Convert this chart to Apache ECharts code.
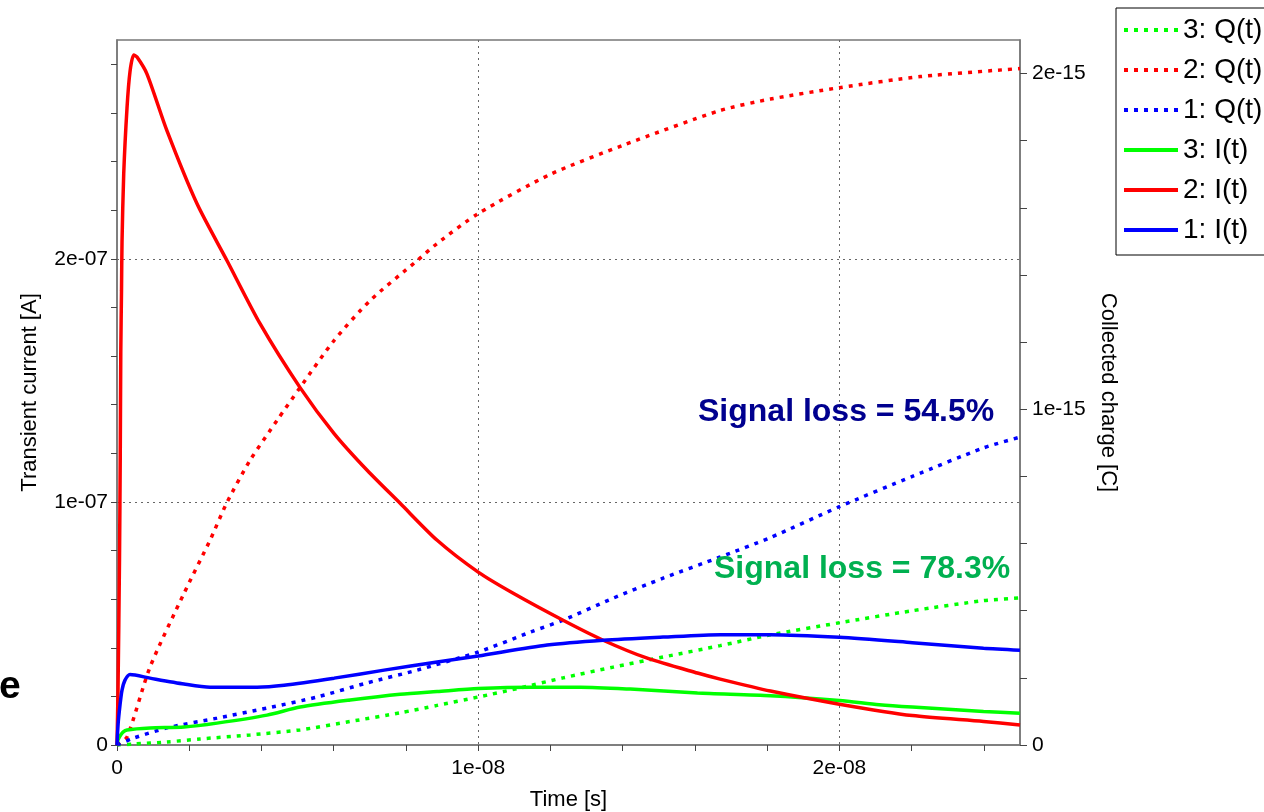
<!DOCTYPE html>
<html>
<head>
<meta charset="utf-8">
<script src="https://cdn.jsdelivr.net/npm/echarts@6/dist/echarts.min.js"></script>
<style>
html,body{margin:0;padding:0;background:#fff;}
#chart{width:1264px;height:812px;}
</style>
</head>
<body>
<div id="chart"></div>
<script>
// ---- Data (time in ns, current in 1e-07 A, charge in 1e-15 C) ----
const redI_t = [0, 0.028, 0.069, 0.091, 0.105, 0.125, 0.139, 0.186, 0.277, 0.36, 0.463, 0.554, 0.831, 1.385, 2.216, 3.047, 3.961, 5.069, 6.011, 6.925, 7.839, 8.864, 10.0, 10.97, 12.35, 13.46, 14.68, 16.07, 16.70, 18.09, 20.0, 22.02, 23.99, 25.0];
const redI_v = [0, 0.226, 0.76, 1.21, 1.62, 1.87, 2.07, 2.35, 2.62, 2.77, 2.838, 2.83, 2.76, 2.526, 2.226, 1.992, 1.733, 1.47, 1.281, 1.130, 0.994, 0.842, 0.711, 0.624, 0.513, 0.431, 0.357, 0.296, 0.271, 0.222, 0.168, 0.121, 0.097, 0.082];

const redQ_t = [0, 0.277, 0.914, 1.856, 2.576, 3.047, 3.684, 4.432, 5.069, 6.011, 7.008, 8.31, 8.864, 10.0, 12.0, 14.0, 16.7, 18.09, 20.0, 22.24, 25.0];
const redQ_v = [0, 0.024, 0.232, 0.452, 0.610, 0.723, 0.848, 0.967, 1.065, 1.205, 1.324, 1.443, 1.494, 1.583, 1.70, 1.786, 1.89, 1.924, 1.958, 1.991, 2.015];

const blueI_t = [0, 0.028, 0.083, 0.139, 0.222, 0.36, 0.914, 1.856, 2.576, 3.878, 4.626, 6.011, 7.396, 8.864, 10.0, 11.91, 13.46, 15.12, 16.70, 18.09, 20.0, 22.02, 23.99, 25.0];
const blueI_v = [0, 0.082, 0.164, 0.226, 0.267, 0.29, 0.275, 0.251, 0.238, 0.238, 0.246, 0.275, 0.308, 0.341, 0.366, 0.411, 0.431, 0.444, 0.454, 0.454, 0.443, 0.421, 0.398, 0.39];

const blueQ_t = [0, 0.47, 1.385, 2.77, 4.155, 5.54, 6.925, 8.31, 10.0, 11.44, 12.35, 13.74, 15.12, 16.70, 18.09, 20.0, 22.02, 23.99, 25.0];
const blueQ_v = [0, 0.021, 0.051, 0.080, 0.110, 0.143, 0.185, 0.223, 0.277, 0.336, 0.372, 0.4375, 0.497, 0.560, 0.618, 0.71, 0.80, 0.885, 0.917];

const greenI_t = [0, 0.028, 0.083, 0.166, 0.277, 0.914, 1.856, 2.77, 4.155, 5.069, 6.454, 7.839, 8.864, 10.0, 11.44, 12.83, 14.21, 16.07, 18.09, 20.0, 21.1, 22.02, 23.99, 25.0];
const greenI_v = [0, 0.021, 0.037, 0.053, 0.062, 0.070, 0.074, 0.090, 0.123, 0.156, 0.185, 0.209, 0.220, 0.232, 0.238, 0.238, 0.230, 0.214, 0.203, 0.183, 0.166, 0.156, 0.138, 0.131];

const greenQ_t = [0, 0.47, 1.385, 2.30, 3.684, 5.069, 6.454, 7.839, 8.864, 10.0, 11.08, 12.35, 13.74, 15.12, 16.70, 18.09, 20.0, 22.02, 23.99, 25.0];
const greenQ_v = [0, 0.003, 0.009, 0.018, 0.030, 0.045, 0.070, 0.096, 0.118, 0.143, 0.168, 0.200, 0.232, 0.262, 0.296, 0.328, 0.364, 0.400, 0.430, 0.438];

// ---- Tick values ----
const xTickValues = [0, 2e-9, 4e-9, 6e-9, 8e-9, 1e-8, 1.2e-8, 1.4e-8, 1.6e-8, 1.8e-8, 2e-8, 2.2e-8, 2.4e-8];
const xLabelValues = [0, 1e-8, 2e-8];
const yLeftTickValues = [0, 2e-8, 4e-8, 6e-8, 8e-8, 1e-7, 1.2e-7, 1.4e-7, 1.6e-7, 1.8e-7, 2e-7, 2.2e-7, 2.4e-7, 2.6e-7, 2.8e-7];
const yLeftLabelValues = [0, 1e-7, 2e-7];
const yRightTickValues = [0, 2e-16, 4e-16, 6e-16, 8e-16, 1e-15, 1.2e-15, 1.4e-15, 1.6e-15, 1.8e-15, 2e-15];
const yRightLabelValues = [0, 1e-15, 2e-15];

const legendOrder = ['3: Q(t)', '2: Q(t)', '1: Q(t)', '3: I(t)', '2: I(t)', '1: I(t)'];

const FONT = "'Liberation Sans', Arial, Helvetica, sans-serif";

function pairs(ts, vs, tScale, vScale) {
  return ts.map((t, i) => [t * tScale, vs[i] * vScale]);
}
function sci(v) {
  if (Math.abs(v) < 1e-40) return '0';
  const e = Math.floor(Math.log10(Math.abs(v)) + 1e-9);
  const m = Math.round(v / Math.pow(10, e) * 100) / 100;
  return m + 'e' + (e < 0 ? '-' : '+') + String(Math.abs(e)).padStart(2, '0');
}

const chart = echarts.init(document.getElementById('chart'), null, {renderer: 'canvas'});

const axisLineStyle = {color: '#777', width: 1.5};
const tickLineStyle = {color: '#444', width: 1};
const labelStyle = {fontSize: 21, color: '#000', fontFamily: FONT};
const nameStyle = {fontSize: 22, color: '#000', fontFamily: FONT};
const gridLineStyle = {color: '#666', type: [2, 4], width: 1};

function qSeries(name, t, v, color) {
  return {
    name, type: 'line', yAxisIndex: 1, symbol: 'none', showSymbol: false,
    smooth: 0.25,
    data: pairs(t, v, 1e-9, 1e-15),
    lineStyle: {color, width: 3.5, type: [4, 6]},
    itemStyle: {color},
    z: 2
  };
}
function iSeries(name, t, v, color) {
  return {
    name, type: 'line', yAxisIndex: 0, symbol: 'none', showSymbol: false,
    smooth: 0.25,
    data: pairs(t, v, 1e-9, 1e-7),
    lineStyle: {color, width: 3.5},
    itemStyle: {color},
    z: 3
  };
}

const hidden = {axisLine: {show: false}, axisTick: {show: false}, axisLabel: {show: false}};

const option = {
  animation: false,
  backgroundColor: '#fff',
  textStyle: {fontFamily: FONT},
  grid: {left: 117, right: 244, top: 40, bottom: 67, outerBoundsMode: 'none', containLabel: false, show: true, borderColor: '#777', borderWidth: 1.5, backgroundColor: 'transparent'},
  legend: {
    orient: 'vertical', left: 1116, top: 8,
    data: legendOrder,
    itemWidth: 54, itemHeight: 14, itemGap: 12,
    padding: [8, 14, 11, 6],
    borderColor: '#000', borderWidth: 1, backgroundColor: '#fff',
    textStyle: {fontSize: 28, color: '#000', lineHeight: 28, fontFamily: FONT},
    itemStyle: {opacity: 0},
    lineStyle: {width: 4}
  },
  xAxis: [
    {
      type: 'value', min: 0, max: 2.5e-8, interval: 1e-8, position: 'bottom',
      name: 'Time [s]', nameLocation: 'middle', nameGap: 44, nameTextStyle: nameStyle,
      axisLine: {onZero: false, lineStyle: axisLineStyle},
      axisTick: {show: true, inside: false, length: 6, customValues: xTickValues, lineStyle: tickLineStyle},
      axisLabel: {customValues: xLabelValues, formatter: sci, margin: 13, ...labelStyle},
      splitLine: {show: false}
    },
    {
      type: 'value', min: 0, max: 2.5e-8, interval: 1e-8, position: 'top', ...hidden,
      splitLine: {show: true, showMinLine: false, showMaxLine: false, lineStyle: gridLineStyle}
    }
  ],
  yAxis: [
    {
      type: 'value', position: 'left', min: 0, max: 2.9e-7, interval: 1e-7,
      name: 'Transient current [A]', nameLocation: 'middle', nameGap: 76, nameTextStyle: nameStyle,
      axisLine: {show: true, onZero: false, lineStyle: axisLineStyle},
      axisTick: {show: true, inside: false, length: 6, customValues: yLeftTickValues, lineStyle: tickLineStyle},
      axisLabel: {customValues: yLeftLabelValues, formatter: sci, margin: 9, ...labelStyle},
      splitLine: {show: false}
    },
    {
      type: 'value', position: 'right', min: 0, max: 2.1e-15, interval: 1e-15,
      name: 'Collected charge [C]', nameLocation: 'middle', nameGap: 76, nameRotate: -90, nameTextStyle: nameStyle,
      axisLine: {show: true, onZero: false, lineStyle: axisLineStyle},
      axisTick: {show: true, inside: false, length: 7, customValues: yRightTickValues, lineStyle: tickLineStyle},
      axisLabel: {customValues: yRightLabelValues, formatter: sci, margin: 12, ...labelStyle},
      splitLine: {show: false}
    },
    {
      type: 'value', position: 'left', min: 0, max: 2.9e-7, interval: 1e-7, ...hidden,
      splitLine: {show: true, showMinLine: false, showMaxLine: false, lineStyle: gridLineStyle}
    }
  ],
  series: [
    qSeries('3: Q(t)', greenQ_t, greenQ_v, '#00ff00'),
    qSeries('2: Q(t)', redQ_t, redQ_v, '#ff0000'),
    qSeries('1: Q(t)', blueQ_t, blueQ_v, '#0000ff'),
    iSeries('3: I(t)', greenI_t, greenI_v, '#00ff00'),
    iSeries('2: I(t)', redI_t, redI_v, '#ff0000'),
    iSeries('1: I(t)', blueI_t, blueI_v, '#0000ff')
  ],
  graphic: [
    {type: 'text', x: 698, y: 412, z: 10, style: {text: 'Signal loss = 54.5%', font: 'bold 32px ' + FONT, fill: '#00008f', align: 'left', verticalAlign: 'middle'}},
    {type: 'text', x: 714, y: 569, z: 10, style: {text: 'Signal loss = 78.3%', font: 'bold 32px ' + FONT, fill: '#00b050', align: 'left', verticalAlign: 'middle'}},
    {type: 'text', x: -1, y: 687, z: 10, style: {text: 'e', font: 'bold 39px ' + FONT, fill: '#000', align: 'left', verticalAlign: 'middle'}}
  ]
};
chart.setOption(option);
</script>
</body>
</html>
